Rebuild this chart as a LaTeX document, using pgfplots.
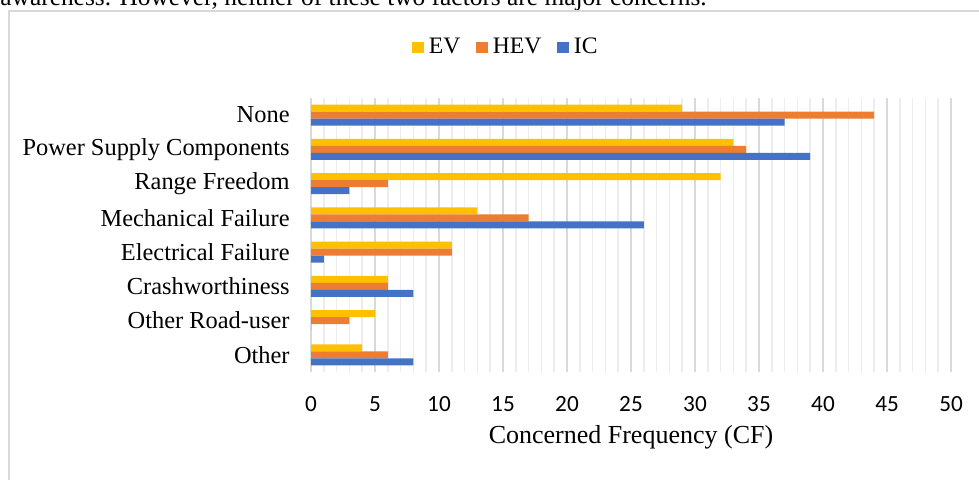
\documentclass[border=0pt]{standalone}
\usepackage{fontspec}
\setmainfont{Liberation Serif}
\newfontfamily\calibri{Carlito}
\usepackage{pgfplots}
\pgfplotsset{compat=1.18}
\usepackage{pgfplotstable}
\definecolor{evc}{HTML}{FFC000}
\definecolor{hevc}{HTML}{ED7D31}
\definecolor{icc}{HTML}{4472C4}
\definecolor{majgrid}{HTML}{D9D9D9}
\definecolor{mingrid}{HTML}{EDEDED}
\definecolor{framec}{HTML}{D9D9D9}
\pgfplotstableread{
y EV HEV IC
0 4 6 8
1 5 3 0
2 6 6 8
3 11 11 1
4 13 17 26
5 32 6 3
6 33 34 39
7 29 44 37
}\datatable
\begin{document}
\begin{tikzpicture}
\path[use as bounding box] (0,0) rectangle (489.5pt,239.5pt);
\node[anchor=base west, inner sep=0pt, font=\fontsize{12.7}{15}\selectfont] at (0pt,237pt) {awareness. However, neither of these two factors are major concerns.};
\draw[framec, line width=0.9pt] (4.5pt,-10pt) -- (4.5pt,234pt) -- (500pt,234pt);
\begin{axis}[
  at={(155.5pt,53.5pt)}, anchor=south west,
  width=320pt, height=137pt, scale only axis,
  xbar, bar width=0.205,
  xmin=0, xmax=50, ymin=-0.5, ymax=7.5,
  xtick distance=5, minor x tick num=4,
  xmajorgrids, xminorgrids,
  major grid style={draw=majgrid, line width=0.75pt},
  minor grid style={draw=mingrid, line width=0.75pt},
  ytick={0,...,7},
  yticklabels={Other, Other Road-user, Crashworthiness, Electrical Failure, Mechanical Failure, Range Freedom, Power Supply Components, None},
  major tick length=0pt, minor tick length=0pt,
  axis line style={draw=none},
  /pgf/number format/assume math mode=true,
  xticklabel style={font=\calibri\fontsize{11.6}{13}\selectfont, anchor=center, yshift=-16pt},
  yticklabel style={font=\fontsize{12.2}{14}\selectfont, anchor=east, inner sep=0pt, xshift=-10.5pt},
  xlabel={Concerned Frequency (CF)},
  xlabel style={font=\fontsize{13}{15}\selectfont, at={(axis description cs:0.5,-0.237)}, anchor=center},
  legend columns=3,
  legend image code/.code={\fill[#1] (0pt,-2.9pt) rectangle (5.8pt,2.9pt);},
  legend style={at={(axis description cs:0.303,1.1843)}, anchor=center, draw=none, fill=none,
    font=\fontsize{11.8}{14}\selectfont, nodes={inner sep=0pt},
    /tikz/every odd column/.append style={column sep=2.5pt},
    /tikz/every even column/.append style={column sep=8pt}},
]
\addplot[fill=evc, draw=none, bar shift=0.205] table[x=EV, y=y] {\datatable};
\addplot[fill=hevc, draw=none, bar shift=0] table[x=HEV, y=y] {\datatable};
\addplot[fill=icc, draw=none, bar shift=-0.205] table[x=IC, y=y] {\datatable};
\legend{EV, HEV, IC}
\end{axis}
\end{tikzpicture}
\end{document}
